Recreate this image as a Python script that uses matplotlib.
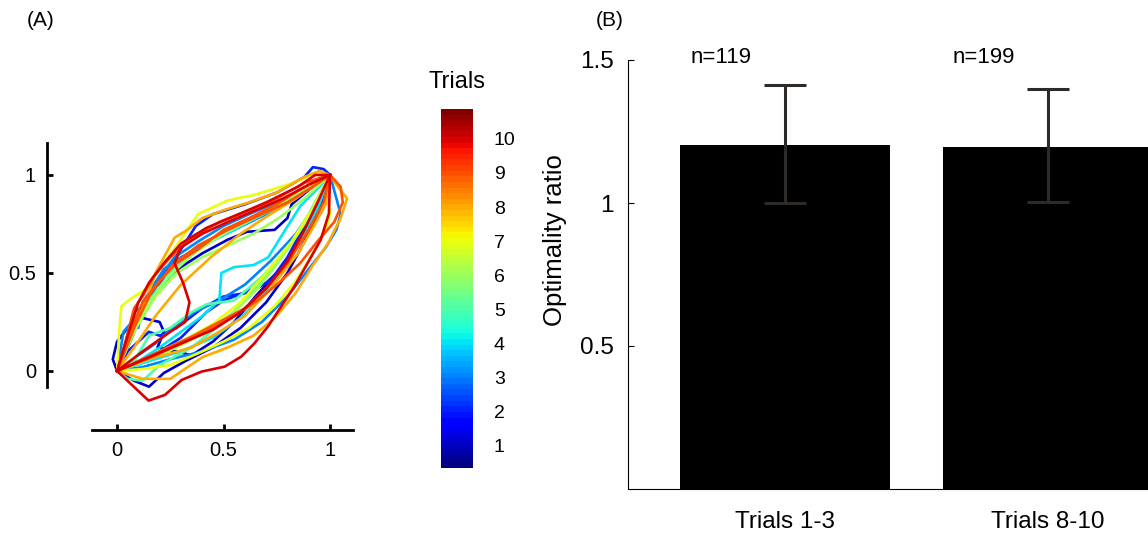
import numpy as np
import matplotlib
matplotlib.use("Agg")
import matplotlib.pyplot as plt
from matplotlib.colors import Normalize

plt.rcParams['font.family'] = ['Liberation Sans', 'DejaVu Sans']

# --- Panel A: trajectories (normalised start -> goal), coloured by trial ---
traj_trial = [1, 1, 1, 2, 2, 2, 3, 3, 3, 4, 4, 4, 5, 5, 5, 6, 6,
              7, 7, 7, 8, 8, 8, 8, 9, 9, 9, 9, 10, 10, 10, 10, 6, 3, 9]
traj_x = [
    [0, 0.05, 0.12, 0.18, 0.30, 0.40, 0.52, 0.61, 0.74, 0.80, 0.82, 0.94, 1.0],
    [0, -0.02, 0.0, 0.05, 0.12, 0.20, 0.22, 0.19, 0.28, 0.35, 0.45, 0.55, 0.65, 0.75, 0.85, 0.92, 1.0],
    [0, 0.08, 0.15, 0.22, 0.32, 0.45, 0.58, 0.70, 0.80, 0.88, 0.95, 1.0],
    [0, 0.06, 0.14, 0.22, 0.30, 0.37, 0.45, 0.60, 0.75, 0.88, 0.92, 0.97, 1.0],
    [0, 0.10, 0.20, 0.30, 0.42, 0.50, 0.60, 0.70, 0.80, 0.86, 0.93, 1.0],
    [0, 0.05, 0.15, 0.20, 0.28, 0.40, 0.50, 0.62, 0.72, 0.80, 0.90, 1.0],
    [0, 0.04, 0.08, 0.12, 0.18, 0.27, 0.38, 0.50, 0.62, 0.75, 0.88, 1.0],
    [0, 0.12, 0.25, 0.40, 0.55, 0.68, 0.80, 0.90, 0.98, 1.03, 1.05, 1.0],
    [0, 0.03, 0.07, 0.10, 0.12, 0.15, 0.22, 0.30, 0.40, 0.55, 0.70, 0.85, 1.0],
    [0, 0.10, 0.20, 0.30, 0.40, 0.48, 0.49, 0.55, 0.64, 0.71, 0.79, 0.86, 0.95, 1.0],
    [0, 0.05, 0.12, 0.20, 0.30, 0.42, 0.55, 0.68, 0.80, 0.90, 1.0],
    [0, 0.15, 0.30, 0.45, 0.58, 0.70, 0.80, 0.88, 0.95, 1.0],
    [0, 0.08, 0.15, 0.25, 0.35, 0.42, 0.55, 0.68, 0.80, 0.90, 1.0],
    [0, 0.07, 0.15, 0.25, 0.38, 0.52, 0.65, 0.78, 0.90, 1.0],
    [0, 0.05, 0.12, 0.20, 0.35, 0.50, 0.62, 0.75, 0.88, 1.0],
    [0, 0.06, 0.14, 0.24, 0.36, 0.50, 0.64, 0.78, 0.90, 1.0],
    [0, 0.15, 0.28, 0.42, 0.55, 0.66, 0.76, 0.85, 0.93, 1.0],
    [0, 0.01, 0.02, 0.08, 0.14, 0.20, 0.28, 0.38, 0.52, 0.65, 0.80, 0.92, 1.0],
    [0, 0.12, 0.25, 0.38, 0.50, 0.62, 0.74, 0.84, 0.92, 0.98, 1.0, 0.99, 1.0],
    [0, 0.10, 0.20, 0.32, 0.45, 0.58, 0.70, 0.82, 0.92, 1.0],
    [0, 0.05, 0.10, 0.15, 0.18, 0.22, 0.27, 0.33, 0.40, 0.50, 0.62, 0.75, 0.88, 0.95, 1.0],
    [0, 0.12, 0.25, 0.40, 0.52, 0.64, 0.74, 0.84, 0.92, 0.99, 1.05, 1.08, 1.03, 1.0],
    [0, 0.08, 0.18, 0.30, 0.44, 0.58, 0.72, 0.84, 0.93, 1.0],
    [0, 0.10, 0.22, 0.35, 0.48, 0.60, 0.72, 0.85, 0.93, 0.98, 1.0],
    [0, 0.04, 0.08, 0.12, 0.17, 0.25, 0.35, 0.48, 0.62, 0.75, 0.88, 1.0],
    [0, 0.14, 0.28, 0.42, 0.55, 0.66, 0.76, 0.86, 0.94, 1.02, 1.06, 1.05, 1.0],
    [0, 0.06, 0.12, 0.20, 0.28, 0.38, 0.50, 0.62, 0.75, 0.85, 0.95, 1.0],
    [0, 0.12, 0.24, 0.36, 0.48, 0.60, 0.70, 0.80, 0.90, 0.97, 1.0],
    [0, 0.148, 0.225, 0.303, 0.397, 0.505, 0.583, 0.645, 0.708, 0.770, 0.832, 0.894, 0.956, 0.995, 1.0],
    [0, 0.12, 0.25, 0.32, 0.34, 0.31, 0.27, 0.30, 0.40, 0.52, 0.65, 0.78, 0.90, 1.0],
    [0, 0.05, 0.10, 0.15, 0.22, 0.30, 0.42, 0.55, 0.70, 0.85, 0.93, 1.0],
    [0, 0.15, 0.30, 0.45, 0.58, 0.70, 0.80, 0.88, 0.95, 1.0],
    [0, 0.09, 0.18, 0.28, 0.40, 0.52, 0.64, 0.76, 0.88, 1.0],
    [0, 0.10, 0.18, 0.26, 0.36, 0.48, 0.60, 0.72, 0.84, 0.94, 1.0],
    [0, 0.08, 0.16, 0.26, 0.38, 0.52, 0.66, 0.80, 0.92, 1.0],
]
traj_y = [
    [0, 0.12, 0.30, 0.43, 0.53, 0.60, 0.67, 0.71, 0.72, 0.78, 0.85, 0.96, 1.0],
    [0, 0.06, 0.15, 0.22, 0.27, 0.25, 0.20, 0.12, 0.10, 0.08, 0.15, 0.25, 0.38, 0.50, 0.65, 0.80, 1.0],
    [0, -0.05, -0.08, -0.01, 0.05, 0.12, 0.22, 0.35, 0.50, 0.66, 0.82, 1.0],
    [0, 0.18, 0.35, 0.50, 0.62, 0.74, 0.80, 0.85, 0.91, 0.99, 1.04, 1.03, 1.0],
    [0, 0.04, 0.10, 0.17, 0.30, 0.36, 0.40, 0.45, 0.55, 0.66, 0.80, 1.0],
    [0, 0.10, 0.20, 0.18, 0.22, 0.32, 0.38, 0.40, 0.46, 0.58, 0.78, 1.0],
    [0, 0.15, 0.30, 0.33, 0.45, 0.58, 0.66, 0.74, 0.80, 0.86, 0.93, 1.0],
    [0, 0.02, 0.06, 0.10, 0.16, 0.25, 0.38, 0.52, 0.63, 0.72, 0.80, 1.0],
    [0, 0.20, 0.25, 0.22, 0.35, 0.40, 0.52, 0.58, 0.64, 0.72, 0.80, 0.90, 1.0],
    [0, 0.05, 0.12, 0.20, 0.28, 0.36, 0.50, 0.53, 0.54, 0.58, 0.72, 0.84, 0.94, 1.0],
    [0, 0.15, 0.30, 0.42, 0.55, 0.65, 0.72, 0.80, 0.87, 0.94, 1.0],
    [0, 0.05, 0.10, 0.17, 0.27, 0.40, 0.55, 0.70, 0.85, 1.0],
    [0, 0.05, 0.18, 0.22, 0.30, 0.34, 0.36, 0.48, 0.62, 0.80, 1.0],
    [0, 0.20, 0.36, 0.50, 0.62, 0.71, 0.78, 0.85, 0.93, 1.0],
    [0, -0.04, -0.05, 0.03, 0.12, 0.25, 0.38, 0.55, 0.75, 1.0],
    [0, 0.16, 0.33, 0.48, 0.60, 0.70, 0.78, 0.86, 0.94, 1.0],
    [0, 0.06, 0.12, 0.20, 0.30, 0.42, 0.56, 0.70, 0.85, 1.0],
    [0, 0.20, 0.33, 0.38, 0.42, 0.52, 0.64, 0.80, 0.87, 0.90, 0.95, 1.0, 1.0],
    [0, 0.01, 0.03, 0.09, 0.15, 0.22, 0.33, 0.46, 0.60, 0.72, 0.80, 0.90, 1.0],
    [0, 0.04, 0.10, 0.16, 0.24, 0.35, 0.50, 0.66, 0.83, 1.0],
    [0, 0.15, 0.28, 0.40, 0.50, 0.58, 0.68, 0.72, 0.78, 0.82, 0.86, 0.91, 0.99, 1.02, 1.0],
    [0, -0.04, -0.04, 0.07, 0.12, 0.18, 0.27, 0.40, 0.54, 0.65, 0.78, 0.88, 0.95, 1.0],
    [0, 0.12, 0.28, 0.44, 0.58, 0.70, 0.80, 0.88, 0.95, 1.0],
    [0, 0.05, 0.08, 0.12, 0.20, 0.28, 0.42, 0.60, 0.75, 0.85, 1.0],
    [0, 0.15, 0.32, 0.38, 0.48, 0.58, 0.68, 0.76, 0.82, 0.88, 0.96, 1.0],
    [0, 0.06, 0.13, 0.20, 0.28, 0.36, 0.45, 0.55, 0.66, 0.76, 0.86, 0.94, 1.0],
    [0, 0.20, 0.35, 0.46, 0.55, 0.62, 0.72, 0.78, 0.85, 0.92, 0.98, 1.0],
    [0, 0.06, 0.12, 0.18, 0.25, 0.32, 0.42, 0.55, 0.72, 0.86, 1.0],
    [0, -0.151, -0.122, -0.046, -0.003, 0.022, 0.073, 0.141, 0.226, 0.328, 0.430, 0.549, 0.668, 0.804, 1.0],
    [0, 0.10, 0.20, 0.25, 0.35, 0.45, 0.55, 0.63, 0.70, 0.76, 0.82, 0.88, 0.95, 1.0],
    [0, 0.18, 0.35, 0.45, 0.55, 0.65, 0.73, 0.79, 0.86, 0.94, 1.0, 1.0],
    [0, 0.07, 0.14, 0.21, 0.30, 0.42, 0.56, 0.72, 0.88, 1.0],
    [0, 0.22, 0.38, 0.50, 0.58, 0.64, 0.70, 0.78, 0.88, 1.0],
    [0, 0.08, 0.14, 0.22, 0.30, 0.36, 0.44, 0.56, 0.70, 0.86, 1.0],
    [0, 0.22, 0.40, 0.54, 0.64, 0.72, 0.79, 0.86, 0.94, 1.0],
]
trial_ticks = list(range(1, 11))

# --- Panel B: optimality ratio ---
groups = ['Trials 1-3', 'Trials 8-10']
ratio_mean = [1.203, 1.196]
ratio_err_lo = [0.203, 0.193]
ratio_err_hi = [0.210, 0.203]
n_labels = ['n=119', 'n=199']

W, H = 1148, 533
fig = plt.figure(figsize=(W / 100, H / 100), dpi=100)

cmap = plt.get_cmap('jet', 64)
norm = Normalize(vmin=0.33, vmax=10.88)

# panel A
ax1 = fig.add_axes([47 / W, 1 - 430 / H, 306 / W, 287 / H])
order = np.argsort(traj_trial, kind='stable')
for i in order:
    ax1.plot(traj_x[i], traj_y[i], color=cmap(norm(traj_trial[i])), lw=1.9)
ax1.set_xlim(-0.329, 1.108)
ax1.set_ylim(-0.301, 1.163)
for s in ['top', 'right']:
    ax1.spines[s].set_visible(False)
ax1.spines['left'].set_bounds(-0.082, 1.163)
ax1.spines['bottom'].set_bounds(-0.117, 1.108)
for s in ['left', 'bottom']:
    ax1.spines[s].set_linewidth(2)
ax1.set_xticks([0, 0.5, 1])
ax1.set_xticklabels(['0', '0.5', '1'])
ax1.set_yticks([0, 0.5, 1])
ax1.set_yticklabels(['0', '0.5', '1'])
ax1.tick_params(direction='in', length=4, width=2, labelsize=14.5, pad=8)

# colorbar
cax = fig.add_axes([441 / W, 1 - 468 / H, 32 / W, 359 / H])
sm = plt.cm.ScalarMappable(cmap=cmap, norm=norm)
cb = fig.colorbar(sm, cax=cax, ticks=trial_ticks)
cb.outline.set_visible(False)
cax.tick_params(length=0, labelsize=14, pad=15)
fig.text(457 / W, 1 - 82 / H, 'Trials', ha='center', va='center', fontsize=17)

# panel B
ax2 = fig.add_axes([628 / W, 1 - 489 / H, 520 / W, 429 / H])
xpos = np.arange(1, len(groups) + 1)
ax2.bar(xpos, ratio_mean, width=0.8, color='black')
ax2.errorbar(xpos, ratio_mean, yerr=[ratio_err_lo, ratio_err_hi], fmt='none',
             ecolor='#2d2a28', elinewidth=2.2, capsize=15, capthick=2.2)
for xp, lab in zip(xpos, n_labels):
    ax2.text(xp - 0.245, 1.51, lab, ha='center', va='center', fontsize=16,
             clip_on=False)
ax2.set_xlim(0.403, 2.38)
ax2.set_ylim(0, 1.5)
for s in ['top', 'right']:
    ax2.spines[s].set_visible(False)
ax2.set_xticks(xpos)
ax2.set_xticklabels(groups)
ax2.set_yticks([0.5, 1, 1.5])
ax2.set_yticklabels(['0.5', '1', '1.5'])
ax2.tick_params(axis='x', length=0, labelsize=17.5, pad=16)
ax2.tick_params(axis='y', direction='in', length=4, labelsize=17.5, pad=10)
fig.text(555 / W, 1 - 240 / H, 'Optimality ratio', rotation=90,
         ha='center', va='center', fontsize=18.5)

fig.text(41 / W, 1 - 20 / H, '(A)', ha='center', va='center', fontsize=15)
fig.text(610 / W, 1 - 20 / H, '(B)', ha='center', va='center', fontsize=15)

fig.savefig('out.png', dpi=100)
